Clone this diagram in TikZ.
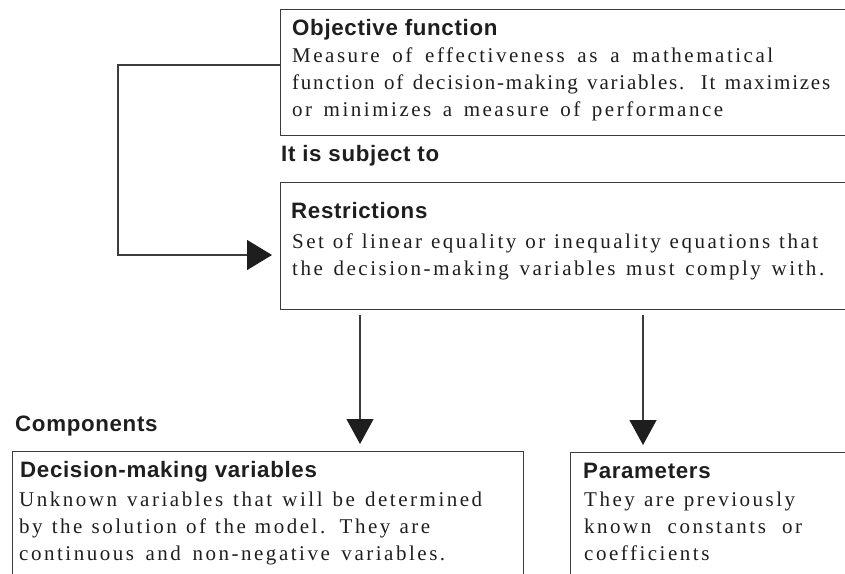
\documentclass[tikz,border=0pt]{standalone}
\usepackage{fontspec}
\setmainfont{Liberation Serif}[LetterSpace=12]
\newfontfamily\hdfont{Liberation Sans}[LetterSpace=3]
\usetikzlibrary{arrows.meta}
\definecolor{ink}{HTML}{1E1E1E}
\definecolor{edge}{HTML}{3C3C3C}
\newcommand{\bodyline}[2]{\makebox[#1pt][s]{#2}}
\begin{document}
\begin{tikzpicture}[x=1pt,y=-1pt,
  box/.style={draw=edge, line width=1.4pt, anchor=north west, inner sep=0pt},
  title/.style={anchor=base west, inner sep=0pt, text=ink, font=\hdfont\bfseries\fontsize{22.3}{26}\selectfont},
  body/.style={anchor=base west, inner sep=0pt, text=ink, align=left, font=\fontsize{21}{26.8}\selectfont},
  conn/.style={draw=edge, line width=1.3pt},
  tipdown/.style={-{Triangle[length=25pt,width=27pt,color=ink]}, shorten >=7pt, shorten <=5pt},
  tipright/.style={-{Triangle[length=25pt,width=30pt,color=ink]}, shorten >=8pt}]
\useasboundingbox (0,0) rectangle (845,573);
\clip (0,0) rectangle (845,573);
% boxes
\node[box, minimum width=620pt, minimum height=126pt] (obj) at (280,9) {};
\node[box, minimum width=620pt, minimum height=127pt] (restr) at (280,182) {};
\node[box, minimum width=511pt, minimum height=160pt] (dec) at (12,451) {};
\node[box, minimum width=320pt, minimum height=160pt] (par) at (570,452) {};
% texts (body nodes are anchored at the baseline of their last line)
\node[title] (objT) at (292,35) {Objective function};
\node[body] (objB) at (292,116) {\bodyline{481}{Measure of effectiveness as a mathematical}\\{\addfontfeature{LetterSpace=8.5}\bodyline{538}{function of decision-making variables. It maximizes}}\\\bodyline{431}{or minimizes a measure of performance}};
\node[title] (subj) at (281,161) {It is subject to};
\node[title] (restrT) at (291,218) {Restrictions};
\node[body] (restrB) at (292,275) {\bodyline{526}{Set of linear equality or inequality equations that}\\\bodyline{532}{the decision-making variables must comply with.}};
\node[title] (comp) at (15,431) {Components};
\node[title] (decT) at (20,477) {Decision-making variables};
\node[body] (decB) at (19,560) {\bodyline{463}{Unknown variables that will be determined}\\\bodyline{411}{by the solution of the model. They are}\\\bodyline{426}{continuous and non-negative variables.}};
\node[title] (parT) at (583,478) {Parameters};
\node[body] (parB) at (584,560) {\bodyline{211}{They are previously}\\\bodyline{218}{known constants or}\\\bodyline{123}{coefficients}};
% connectors
\draw[conn, tipright] (obj.west |- 0,65) -- (118,65) |- (restr.west |- 0,255);
\draw[conn, tipdown] (restr.south -| 360,0) -- (dec.north -| 360,0);
\draw[conn, tipdown] (restr.south -| 643,0) -- (par.north -| 643,0);
\end{tikzpicture}
\end{document}
